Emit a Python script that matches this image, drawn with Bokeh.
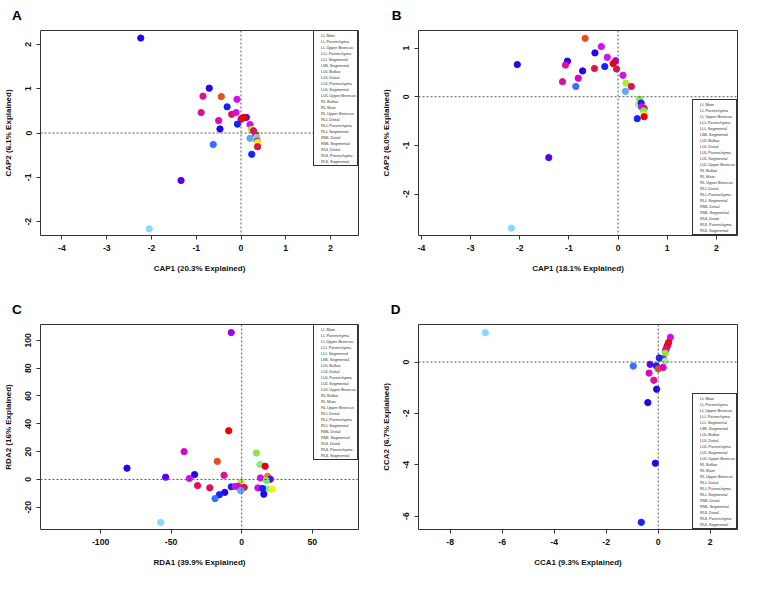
from bokeh.plotting import figure
from bokeh.models import Span, Legend, LegendItem, FixedTicker, Title, Range1d, ColumnDataSource
from bokeh.layouts import gridplot
from bokeh.embed import file_html
from bokeh.resources import INLINE

GROUPS = ["LL Main", "LL Parenchyma", "LL Upper Broncus", "LLL Parenchyma", "LLL Segmental",
          "LML Segmental", "LUL Bullae", "LUL Distal", "LUL Parenchyma", "LUL Segmental",
          "LUL Upper Broncus", "RL Bullae", "RL Main", "RL Upper Broncus", "RLL Distal",
          "RLL Parenchyma", "RLL Segmental", "RML Distal", "RML Segmental", "RUL Distal",
          "RUL Parenchyma", "RUL Segmental"]
PALETTE = ["#EE0000", "#E8501A", "#F08020", "#F5B030", "#F5EE10",
           "#D4F020", "#AAEE33", "#88E844", "#70EE55", "#80EE80",
           "#A0EEB0", "#80DDFF", "#5AA8FF", "#3A70FF", "#1422FF",
           "#2A00F0", "#5A00F0", "#9A00F0", "#D010F0", "#E000C8",
           "#DD1199", "#DD1155"]

# Panel A (CAP)
A_X = [-2.24, -0.71, -0.44, -0.85, -0.09, -0.31, -0.89, -0.21, -0.11, -0.50, 0.00, 0.12, 0.02,
       0.06, -0.08, -0.47, 0.20, -0.62, 0.20, 0.24, -1.34, -2.05, 0.23, 0.28, 0.33, 0.35, 0.34,
       0.36, 0.37, 0.38, 0.37]
A_Y = [2.14, 1.01, 0.82, 0.83, 0.76, 0.59, 0.46, 0.42, 0.46, 0.28, 0.31, 0.35, 0.33, 0.35, 0.20,
       0.09, 0.19, -0.26, -0.12, -0.48, -1.07, -2.16, 0.08, 0.05, -0.04, -0.10, -0.14, -0.18,
       -0.21, -0.25, -0.31]
A_G = ["RLL Parenchyma", "RLL Parenchyma", "LL Parenchyma", "RUL Parenchyma", "RML Segmental",
       "RLL Distal", "RUL Parenchyma", "RUL Segmental", "RML Segmental", "RUL Distal", "RUL Distal",
       "RLL Segmental", "LL Main", "LL Main", "RLL Distal", "RLL Parenchyma", "RML Segmental",
       "RL Upper Broncus", "RL Main", "RLL Distal", "RLL Segmental", "RL Bullae", "LUL Bullae",
       "RUL Segmental", "RUL Parenchyma", "LUL Parenchyma", "LUL Segmental", "RML Segmental",
       "LML Segmental", "LLL Segmental", "RUL Segmental"]

# Panel B (CAP)
B_X = [-0.67, -0.34, -0.47, -0.22, -0.05, -1.03, -2.05, -1.07, -0.27, -0.10, -0.03, -0.48, -0.72,
       -0.81, 0.10, -1.13, -0.86, 0.16, 0.27, 0.15, 0.44, 0.41, 0.47, 0.48, 0.53, 0.52, 0.53, 0.53,
       0.39, -1.41, -2.17]
B_Y = [1.20, 1.03, 0.90, 0.81, 0.74, 0.73, 0.66, 0.65, 0.62, 0.68, 0.57, 0.58, 0.53, 0.38, 0.44,
       0.31, 0.21, 0.28, 0.21, 0.11, -0.05, -0.16, -0.13, -0.21, -0.24, -0.29, -0.37, -0.41, -0.45,
       -1.25, -2.70]
B_G = ["LL Parenchyma", "RML Segmental", "RLL Parenchyma", "RML Segmental", "RML Distal",
       "RLL Parenchyma", "RLL Parenchyma", "RUL Parenchyma", "RLL Distal", "LL Main",
       "RUL Segmental", "RUL Segmental", "RLL Parenchyma", "RUL Distal", "RML Segmental",
       "RUL Parenchyma", "RL Upper Broncus", "LUL Bullae", "RUL Segmental", "RL Main",
       "LUL Distal", "LUL Upper Broncus", "RLL Distal", "RML Segmental", "RUL Segmental",
       "LUL Parenchyma", "LLL Segmental", "LL Main", "RLL Distal", "RLL Segmental", "RL Bullae"]

# Panel C (RDA)
C_X = [-7.4, -9.2, -40.8, -17.3, 10.4, 12.9, 16.6, -81.3, -53.9, -33.4, -37.1, -12.5, -31.3,
       -22.6, 18.4, 13.3, 20.2, 17.5, -0.5, 1.8, -7.4, -4.5, -2.5, -12.0, -15.8, -18.9, -0.7,
       11.5, 17.5, 21.6, 14.8, 15.7, -57.4]
C_Y = [105.6, 35.0, 20.0, 13.0, 19.0, 10.7, 9.5, 8.1, 1.6, 3.5, 0.7, 3.0, -4.4, -6.0, 2.3, 1.1,
       0.2, -0.7, -1.9, -5.7, -5.3, -5.0, -5.0, -9.3, -11.0, -13.8, -8.1, -6.1, -6.8, -7.0, -6.5,
       -10.6, -30.9]
C_G = ["RML Distal", "LL Main", "RUL Distal", "LL Parenchyma", "LUL Distal", "LUL Segmental",
       "LL Main", "RLL Parenchyma", "RLL Segmental", "RLL Parenchyma", "RML Segmental",
       "RUL Parenchyma", "RUL Segmental", "RUL Segmental", "LL Upper Broncus", "RML Segmental",
       "RLL Segmental", "LUL Parenchyma", "LUL Bullae", "RUL Segmental", "RLL Distal",
       "RML Segmental", "RUL Distal", "RLL Parenchyma", "RLL Distal", "RL Upper Broncus",
       "RL Main", "RML Segmental", "LUL Segmental", "LLL Segmental", "RLL Distal",
       "RLL Parenchyma", "RL Bullae"]

# Panel D (CCA)
D_X = [-6.65, 0.47, 0.40, 0.37, 0.34, 0.31, 0.28, 0.27, 0.20, 0.04, 0.27, -0.96, -0.31, -0.07,
       0.00, 0.19, -0.35, -0.17, -0.06, -0.40, -0.11, -0.65]
D_Y = [1.14, 0.96, 0.76, 0.68, 0.60, 0.52, 0.45, 0.34, 0.12, 0.16, 0.03, -0.16, -0.09, -0.15,
       -0.27, -0.21, -0.43, -0.71, -1.06, -1.58, -3.94, -6.24]
D_G = ["RL Bullae", "RML Segmental", "LL Main", "RUL Segmental", "LL Main", "RUL Segmental",
       "RUL Parenchyma", "LUL Distal", "RUL Parenchyma", "RLL Distal", "LUL Upper Broncus",
       "RL Upper Broncus", "RLL Segmental", "RLL Distal", "LL Parenchyma", "RUL Distal",
       "RUL Distal", "RUL Parenchyma", "RLL Parenchyma", "RLL Parenchyma", "RLL Parenchyma",
       "RLL Distal"]

W, H = 370, 286
FONT = "Liberation Sans"


def style_axis(ax, ticks, title, vertical=False):
    ax.ticker = FixedTicker(ticks=ticks)
    ax.major_label_overrides = {t: str(t) for t in ticks}
    ax.axis_label = title
    ax.axis_label_text_font = FONT
    ax.axis_label_text_font_style = "bold"
    ax.axis_label_text_font_size = "8px"
    ax.axis_label_text_color = "#111111"
    ax.axis_label_standoff = 10
    ax.major_label_text_font = FONT
    ax.major_label_text_font_style = "bold"
    ax.major_label_text_font_size = "8.7px"
    ax.major_label_text_color = "#111111"
    ax.major_label_standoff = 5
    ax.major_tick_out = 4
    ax.major_tick_in = 0
    ax.minor_tick_out = 0
    ax.minor_tick_in = 0
    ax.major_tick_line_color = "#333333"
    ax.axis_line_color = None
    if vertical:
        ax.major_label_orientation = "vertical"


def make_panel(letter, xs, ys, gs, xlabel, ylabel, xr, yr, xticks, yticks, borders, legend_loc,
               letter_x, letter_gap):
    left, right, top, bottom = borders
    title = Title(text=letter, align="left", vertical_align="top", offset=letter_x - left,
                  standoff=letter_gap, text_font=FONT, text_font_style="bold",
                  text_font_size="13.5px", text_color="black")
    p = figure(width=W, height=H, x_range=Range1d(*xr), y_range=Range1d(*yr),
               output_backend="svg", toolbar_location=None, tools="", title=title,
               min_border_left=left, min_border_right=right,
               min_border_top=top, min_border_bottom=bottom)
    p.grid.visible = False
    p.outline_line_color = "#333333"
    p.outline_line_width = 1
    p.outline_line_alpha = 1
    p.background_fill_color = "white"
    p.border_fill_color = "white"
    style_axis(p.xaxis[0], xticks, xlabel)
    style_axis(p.yaxis[0], yticks, ylabel, vertical=True)

    p.add_layout(Span(location=0, dimension="height", line_color="#555555",
                      line_dash="2 2", line_width=1))
    p.add_layout(Span(location=0, dimension="width", line_color="#555555",
                      line_dash="2 2", line_width=1))

    cols = [PALETTE[GROUPS.index(g)] for g in gs]
    src = ColumnDataSource(dict(x=xs, y=ys, c=cols))
    p.scatter("x", "y", source=src, marker="circle", size=6.3, fill_color="c", line_color="c")

    items = []
    for g, col in zip(GROUPS, PALETTE):
        r = p.scatter(x=[], y=[], marker="square", size=2, fill_color=col, line_color=col)
        items.append(LegendItem(label=g, renderers=[r]))
    leg = Legend(items=items, location=legend_loc, margin=0, padding=1, spacing=0,
                 glyph_width=5, glyph_height=6, label_height=6, label_standoff=1,
                 label_text_font=FONT, label_text_font_size="4px", label_text_color="#333333",
                 border_line_color="#333333", border_line_width=1, border_line_alpha=1,
                 background_fill_color="white", background_fill_alpha=1)
    p.add_layout(leg)
    return p


pA = make_panel("A", A_X, A_Y, A_G, "CAP1 (20.3% Explained)", "CAP2 (6.1% Explained)",
                (-4.48, 2.625), (-2.31, 2.31), [-4, -3, -2, -1, 0, 1, 2], [-2, -1, 0, 1, 2],
                (40, 12, 30, 51), "top_right", 11.4, 11)
pB = make_panel("B", B_X, B_Y, B_G, "CAP1 (18.1% Explained)", "CAP2 (6.0% Explained)",
                (-4.06, 2.43), (-2.85, 1.36), [-4, -3, -2, -1, 0, 1, 2], [-2, -1, 0, 1],
                (48, 3, 30, 51), "bottom_right", 21.2, 11)
pC = make_panel("C", C_X, C_Y, C_G, "RDA1 (39.9% Explained)", "RDA2 (16% Explained)",
                (-142.6, 82.8), (-36.0, 111.4), [-100, -50, 0, 50], [-20, 0, 20, 40, 60, 80, 100],
                (40, 12, 38, 43), "top_right", 11.4, 11)
pD = make_panel("D", D_X, D_Y, D_G, "CCA1 (9.3% Explained)", "CCA2 (6.7% Explained)",
                (-9.22, 3.05), (-6.52, 1.46), [-8, -6, -4, -2, 0, 2], [-6, -4, -2, 0],
                (48, 3, 38, 43), "bottom_right", 20.2, 11)

grid = gridplot([[pA, pB], [pC, pD]], toolbar_location=None)
open("out.html", "w").write(file_html(grid, INLINE))
